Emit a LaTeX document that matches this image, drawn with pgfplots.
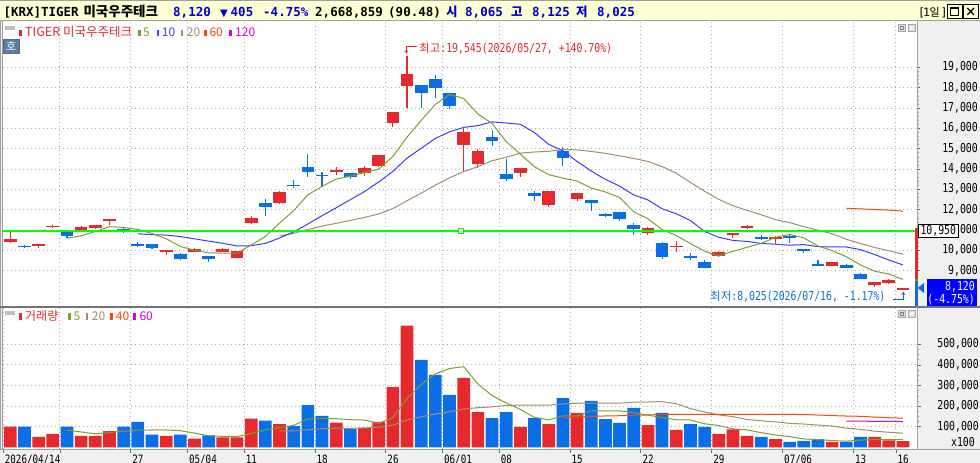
\documentclass[border=0pt]{standalone}
\usepackage{fontspec}
\usepackage{pgfplots}
\usepackage{pgfplotstable}
\pgfplotsset{compat=1.18}
\usetikzlibrary{arrows.meta}
\setmainfont{Noto Sans CJK KR}
\newfontfamily\kr{Noto Sans CJK KR}
\newfontfamily\mono[FakeStretch=0.8]{DejaVu Sans Mono}
\newfontfamily\hmono{DejaVu Sans Mono}
\newfontfamily\djv{DejaVu Sans}
\newcommand{\numf}{\mono\fontsize{12.3}{14}\selectfont}

\definecolor{cred}{RGB}{230,41,45}
\definecolor{cblue}{RGB}{10,110,230}
\definecolor{ma5c}{RGB}{125,160,45}
\definecolor{ma10c}{RGB}{60,60,255}
\definecolor{ma20c}{RGB}{165,140,110}
\definecolor{ma60c}{RGB}{255,70,10}
\definecolor{ma120c}{RGB}{220,0,220}
\definecolor{greenc}{RGB}{0,255,0}
\definecolor{gridc}{RGB}{175,175,175}
\definecolor{hdrbg}{RGB}{255,255,212}
\definecolor{hdrblue}{RGB}{0,0,210}
\definecolor{sidebg}{RGB}{240,240,240}
\definecolor{framec}{RGB}{160,160,160}
\definecolor{hobg}{RGB}{85,125,175}
\definecolor{boxblue}{RGB}{0,0,255}

\pgfplotsset{candle/.style={draw=none, mark=none, forget plot,
  error bars/.cd, y dir=both, y explicit, error mark=none}}

% candles: up (red) and down (blue)
\pgfplotstableread{
i o h l c
0 10411 10903 10378 10559
2 10231 10313 10133 10313
3 11149 11247 11116 11198
5 11002 11182 11002 11149
6 11116 11247 11051 11247
7 11461 11543 11247 11510
11 9936 9985 9789 9985
13 9936 10116 9920 10067
15 9936 10116 9936 10067
16 9641 9985 9608 9985
17 11362 11690 11297 11592
19 12329 12919 12280 12870
23 13870 14083 13706 13952
25 13788 14165 13673 14067
26 14165 14690 14116 14690
27 16279 16804 16083 16804
28 18099 19545 16984 18672
32 15197 16001 13870 15804
33 14263 14968 14034 14870
36 13821 14050 13591 14050
38 12247 12919 12116 12919
40 12542 12837 12444 12805
45 10870 11133 10756 11100
47 10149 10444 9936 10231
50 9739 9969 9657 9920
51 10772 10870 10624 10838
52 11116 11264 11035 11215
54 10559 10707 10313 10657
58 9248 9445 9248 9445
61 8297 8428 8215 8428
62 8412 8592 8346 8525
63 8065 8125 8025 8120
}\upc
\pgfplotstableread{
i o h l c
1 10215 10280 10116 10182
4 10903 10903 10592 10707
8 11051 11100 10870 11002
9 10313 10411 10182 10231
10 10313 10313 10067 10133
12 9822 9854 9526 9592
14 9723 9723 9445 9592
18 12329 12526 11706 12149
20 13231 13460 13050 13165
21 14099 14739 13591 13870
22 13706 13854 13132 13657
24 13788 13788 13493 13591
29 18131 18131 16984 17722
30 18426 18623 17508 18000
31 17722 17754 16951 17115
34 15574 15919 15132 15394
35 13755 14493 13427 13526
37 12821 12936 12444 12690
39 14886 15066 14165 14558
41 12477 12477 11952 12345
42 11788 11838 11624 11723
43 11870 11870 11461 11559
44 11264 11362 10772 11035
46 10346 10428 9592 9690
48 9739 9854 9526 9608
49 9445 9526 9150 9150
53 10674 10756 10510 10576
55 10674 10772 10379 10625
56 10084 10084 9854 9969
57 9330 9526 9232 9232
59 9297 9330 9150 9150
60 8838 8904 8609 8609
}\dnc

\pgfplotstableread{
i v
4 10592
5 10710
6 10923
7 11162
8 11123
9 11028
10 10825
11 10572
12 10189
13 10002
14 9874
15 9861
16 9861
17 10261
18 10677
19 11333
20 11952
21 12729
22 13142
23 13503
24 13647
25 13827
26 13991
27 14621
28 15565
29 16391
30 17178
31 17663
32 17463
33 16702
34 16237
35 15342
36 14729
37 14106
38 13716
39 13549
40 13404
41 13063
42 12870
43 12598
44 11893
45 11552
46 11021
47 10723
48 10333
49 9956
50 9720
51 9949
52 10146
53 10340
54 10641
55 10782
56 10608
57 10212
58 9986
59 9684
60 9281
61 8973
62 8831
63 8566
}\mafive
\pgfplotstableread{
i v
9 10810
10 10767
11 10748
12 10675
13 10562
14 10451
15 10343
16 10216
17 10225
18 10339
19 10603
20 10906
21 11295
22 11701
23 12090
24 12490
25 12890
26 13360
27 13882
28 14534
29 15019
30 15503
31 15827
32 16042
33 16134
34 16314
35 16260
36 16196
37 15784
38 15209
39 14893
40 14373
41 13896
42 13488
43 13157
44 12721
45 12478
46 12042
47 11797
48 11465
49 10925
50 10636
51 10485
52 10435
53 10336
54 10299
55 10251
56 10279
57 10179
58 10163
59 10163
60 10032
61 9791
62 9521
63 9277
}\maten
\pgfplotstableread{
i v
19 10707
20 10837
21 11021
22 11188
23 11326
24 11470
25 11616
26 11788
27 12053
28 12437
29 12811
30 13204
31 13561
32 13872
33 14112
34 14402
35 14575
36 14778
37 14833
38 14871
39 14956
40 14938
41 14862
42 14765
43 14645
44 14517
45 14369
46 14119
47 13790
48 13337
49 12909
50 12505
51 12191
52 11961
53 11747
54 11510
55 11365
56 11161
57 10988
58 10814
59 10544
60 10334
61 10138
62 9978
63 9806
}\matwenty
\pgfplotstableread{
i v
59 12069
60 12036
61 12007
62 11977
63 11926
}\masixty

% volume (x100, in thousands)
\pgfplotstableread{
i v
0 100
2 51
3 65
5 56
6 56
7 79
11 56
13 42
15 48
16 48
17 139
19 113
23 120
25 94
26 123
27 293
28 590
32 337
33 171
36 99
38 113
40 167
45 108
47 84
50 65
51 87
52 55
54 40
58 26
61 50
62 34
63 30
}\upv
\pgfplotstableread{
i v
1 100
4 100
8 100
9 123
10 62
12 62
14 58
18 129
20 103
21 205
22 153
24 89
29 424
30 351
31 254
34 142
35 171
37 142
39 239
41 225
42 137
43 118
44 191
46 167
48 113
49 99
53 50
55 26
56 31
57 40
59 26
60 50
}\dnv
\pgfplotstableread{
i v
4 83.2
5 74.4
6 65.6
7 71.2
8 78.2
9 82.8
10 84
11 84
12 80.6
13 69
14 56
15 53.2
16 51.6
17 67
18 84.4
19 95.4
20 106.4
21 137.8
22 140.6
23 138.8
24 134
25 132.2
26 115.8
27 143.8
28 237.8
29 304.8
30 356.2
31 382.4
32 391.2
33 307.4
34 251
35 215
36 184
37 145
38 133.4
39 152.8
40 152
41 177.2
42 176.2
43 177.2
44 167.6
45 155.8
46 144.2
47 133.6
48 132.6
49 114.2
50 105.6
51 89.6
52 83.8
53 71.2
54 59.4
55 51.6
56 40.4
57 37.4
58 32.6
59 29.8
60 34.6
61 38.4
62 37.2
63 38
}\vmafive
\pgfplotstableread{
i v
19 79.4
20 79.5
21 84.8
22 89.9
23 92.6
24 92.1
25 94
26 97.3
27 108
28 132.5
29 147.6
30 162
31 171.9
32 185.7
33 192.1
34 196.3
35 202.5
36 205
37 205.2
38 204.4
39 210.7
40 213.9
41 214.9
42 214.1
43 214
44 219.1
45 219.8
46 222
47 211.5
48 187.7
49 171.4
50 157.1
51 148.8
52 134.7
53 128.6
54 123.5
55 116.3
56 112.9
57 107.8
58 103.4
59 92.8
60 86.9
61 78.2
62 73
63 68.6
}\vmatwenty
\pgfplotstableread{
i v
39 145
40 146.7
41 149.8
42 152
43 153.3
44 155.6
45 156.9
46 159.6
47 159.8
48 160.1
49 159.5
50 159.6
51 160.3
52 160.2
53 160.4
54 159.9
55 159.4
56 158.9
57 156.5
58 153.9
59 151.7
60 150.4
61 146.5
62 143.5
63 141.3
}\vmaforty
\pgfplotstableread{
i v
59 127.6
60 126.8
61 125.9
62 125.6
63 125.1
}\vmasixty

\begin{document}
\begin{tikzpicture}[x=1pt,y=1pt]
\useasboundingbox (0,0) rectangle (980,463);
\fill[white] (0,0) rectangle (980,463);
% side areas
\fill[sidebg] (917,14) rectangle (980,442.5);
\fill[sidebg] (0,0) rectangle (980,14);
\fill[sidebg] (0,14) rectangle (3,442.5);
\draw[framec, line width=0.6pt] (0.4,14) -- (0.4,442.5) (2.6,14) -- (2.6,442.5);
% header
\fill[hdrbg] (0,442.5) rectangle (980,463);
\draw[framec, line width=1pt] (0,442.5) -- (980,442.5);
\draw[framec, line width=1pt] (0,462.5) -- (980,462.5);

% ---------------- price panel ----------------
\begin{axis}[
  at={(3pt,156pt)}, anchor=south west, scale only axis,
  width=914pt, height=286pt,
  xmin=-0.515, xmax=63.99, ymin=7211, ymax=21277,
  axis line style={draw=none},
  xtick={3.5,8.5,12.5,16.5,21.5,26.5,30.5,34.5,39.5,44.5,49.5,54.5,59.5,62.5},
  xticklabels={},
  xtick style={draw=none},
  ytick={9000,10000,...,19000},
  minor y tick num=4,
  ytick pos=right, yticklabel pos=right,
  tick align=outside,
  major tick length=3pt, minor tick length=2pt,
  ytick style={draw=black!60, line width=0.6pt},
  minor y tick style={draw=black!40, line width=0.5pt},
  scaled y ticks=false,
  yticklabel style={anchor=east, xshift=58pt, inner sep=0pt, font=\numf},
  /pgf/number format/1000 sep={,},
  /pgf/number format/assume math mode=true,
  grid=major,
  major grid style={draw=gridc, dash pattern=on 1pt off 3pt, line width=0.8pt},
  clip=true,
]
% wicks
\addplot[candle, error bar style={draw=cred, line width=1.1pt}]
  table[x=i, y expr={(\thisrow{h}+\thisrow{l})/2}, y error expr={(\thisrow{h}-\thisrow{l})/2}] {\upc};
\addplot[candle, error bar style={draw=cblue, line width=1.1pt}]
  table[x=i, y expr={(\thisrow{h}+\thisrow{l})/2}, y error expr={(\thisrow{h}-\thisrow{l})/2}] {\dnc};
% bodies
\addplot[candle, error bar style={draw=cred, line width=12.7pt}]
  table[x=i, y expr={(\thisrow{o}+\thisrow{c})/2}, y error expr={max(abs(\thisrow{c}-\thisrow{o})/2,30)}] {\upc};
\addplot[candle, error bar style={draw=cblue, line width=12.7pt}]
  table[x=i, y expr={(\thisrow{o}+\thisrow{c})/2}, y error expr={max(abs(\thisrow{c}-\thisrow{o})/2,30)}] {\dnc};
% moving averages
\addplot[ma20c, line width=1pt, mark=none] table[x=i,y=v] {\matwenty};
\addplot[ma10c, line width=1pt, mark=none] table[x=i,y=v] {\maten};
\addplot[ma5c, line width=1pt, mark=none] table[x=i,y=v] {\mafive};
\addplot[ma60c, line width=1pt, mark=none] table[x=i,y=v] {\masixty};
% reference line
\addplot[greenc, line width=2.6pt, mark=none] coordinates {(-0.515,10950) (63.99,10950)};
\addplot[only marks, mark=square*, mark size=2.8pt, mark options={fill=white, draw=greenc, line width=1pt}] coordinates {(31.8,10950)};
\end{axis}

% ---------------- volume panel ----------------
\begin{axis}[
  at={(3pt,14pt)}, anchor=south west, scale only axis,
  width=914pt, height=142pt,
  xmin=-0.515, xmax=63.99, ymin=-8.3, ymax=681,
  axis line style={draw=none},
  xtick={-0.5,3.5,8.5,12.5,16.5,21.5,26.5,30.5,34.5,39.5,44.5,49.5,54.5,59.5,62.5},
  xticklabels={2026/04/14,,27,05/04,11,18,26,06/01,08,15,22,29,07/06,13,16},
  xtick pos=lower,
  xticklabel style={anchor=base west, xshift=1.5pt, yshift=-10.8pt, inner sep=0pt, font=\mono\fontsize{11.5}{12}\selectfont},
  ytick={100,200,300,400,500},
  yticklabels={{100,000},{200,000},{300,000},{400,000},{500,000}},
  minor y tick num=3,
  ytick pos=right, yticklabel pos=right,
  tick align=outside,
  major tick length=4pt, minor tick length=2pt,
  xtick style={draw=black!60, line width=0.7pt},
  ytick style={draw=black!60, line width=0.6pt},
  minor y tick style={draw=black!40, line width=0.5pt},
  yticklabel style={anchor=east, xshift=58pt, inner sep=0pt, font=\numf},
  grid=major,
  major grid style={draw=gridc, dash pattern=on 1pt off 3pt, line width=0.8pt},
  clip=true,
]
\addplot[ybar, bar width=12.7pt, bar shift=0pt, fill=cred, draw=none] table[x=i,y=v] {\upv};
\addplot[ybar, bar width=12.7pt, bar shift=0pt, fill=cblue, draw=none] table[x=i,y=v] {\dnv};
\addplot[ma20c, line width=1pt, mark=none] table[x=i,y=v] {\vmatwenty};
\addplot[ma60c, line width=1pt, mark=none] table[x=i,y=v] {\vmaforty};
\addplot[ma120c, line width=1pt, mark=none] table[x=i,y=v] {\vmasixty};
\addplot[ma5c, line width=1pt, mark=none] table[x=i,y=v] {\vmafive};
\end{axis}

% separators
\draw[black!55, line width=1.4pt] (0,156) -- (980,156);
\draw[framec, line width=0.8pt] (917,14) -- (917,442.5);
\draw[framec, line width=0.8pt] (0,14) -- (980,14);

% price-position strip at right edge of plot
\fill[cred] (915.2,184) rectangle (918,235);
\fill[ma5c] (915.2,182) rectangle (918,184);
\fill[cblue] (915.2,156.7) rectangle (918,182);

% 10,950 box
\draw[black, fill=white, line width=0.7pt] (918.3,225.3) rectangle (958.3,238.7);
\node[inner sep=0, font=\numf] at (938.3,232) {10,950};
% current price box
\fill[boxblue] (926.7,156.6) rectangle (977,183.7);
\fill[cblue] (917.8,175) -- (924,180) -- (924,170) -- cycle;
\node[anchor=east, inner sep=0, text=white, font=\numf] at (975,176.3) {8,120};
\node[anchor=east, inner sep=0, text=white, font=\numf] at (975,163.2) {(-4.75\%)};
% x100
\node[anchor=east, inner sep=0, font=\numf] at (975,21.3) {x100};

% header texts
\begin{scope}[every node/.style={anchor=base west, inner sep=0}]
\node[font=\hmono\bfseries\fontsize{12.5}{14}\selectfont] at (3.3,446) {[KRX]TIGER};
\node[font=\kr\bfseries\fontsize{13.5}{14}\selectfont] at (83.3,446) {미국우주테크};
\node[text=hdrblue, font=\hmono\bfseries\fontsize{12.5}{14}\selectfont] at (173,446) {8,120};
\node[text=hdrblue, font=\djv\fontsize{10}{12}\selectfont] at (220,446.5) {▼};
\node[text=hdrblue, font=\hmono\bfseries\fontsize{12.5}{14}\selectfont] at (230.5,446) {405};
\node[text=hdrblue, font=\hmono\bfseries\fontsize{12.5}{14}\selectfont] at (263,446) {-4.75\%};
\node[font=\hmono\bfseries\fontsize{12.5}{14}\selectfont] at (315,446) {2,668,859};
\node[font=\hmono\bfseries\fontsize{12.5}{14}\selectfont] at (388,446) {(90.48)};
\node[text=hdrblue, font=\kr\bfseries\fontsize{12.5}{14}\selectfont] at (446,446) {시};
\node[text=hdrblue, font=\hmono\bfseries\fontsize{12.5}{14}\selectfont] at (465,446) {8,065};
\node[text=hdrblue, font=\kr\bfseries\fontsize{12.5}{14}\selectfont] at (511,446) {고};
\node[text=hdrblue, font=\hmono\bfseries\fontsize{12.5}{14}\selectfont] at (532,446) {8,125};
\node[text=hdrblue, font=\kr\bfseries\fontsize{12.5}{14}\selectfont] at (576,446) {저};
\node[text=hdrblue, font=\hmono\bfseries\fontsize{12.5}{14}\selectfont] at (597,446) {8,025};
\node[font=\hmono\fontsize{11.5}{14}\selectfont] at (918,446.5) {[};
\node[font=\hmono\fontsize{11.5}{14}\selectfont] at (922.8,446.5) {1};
\node[font=\kr\fontsize{11}{14}\selectfont] at (929.5,446.5) {일};
\node[font=\hmono\fontsize{11.5}{14}\selectfont] at (940.5,446.5) {]};
\end{scope}
% header buttons
\draw[black, line width=0.8pt, fill=hdrbg] (947.3,444.3) rectangle (962,458.7);
\draw[black, line width=0.8pt] (950.5,447.5) rectangle (958.8,455.3);
\draw[black, line width=1.6pt] (950.5,454.6) -- (958.8,454.6);
\draw[black, line width=0.8pt, fill=hdrbg] (963.3,444.3) rectangle (978,458.7);
\draw[black, line width=1.3pt] (967.3,448) -- (974,455) (967.3,455) -- (974,448);

% price legend
\fill[black!25] (5,433) rectangle (15,437.3);
\fill[cred] (19.3,427) rectangle (22,433);
\node[anchor=base west, inner sep=0, text=cred, font=\kr\fontsize{12.5}{14}\selectfont] at (25,426.3) {TIGER 미국우주테크};
\fill[ma5c] (138.3,427) rectangle (140.7,433);
\node[anchor=base west, inner sep=0, text=ma5c, font=\kr\fontsize{12}{14}\selectfont] at (143,426.3) {5};
\fill[ma10c] (156.7,427) rectangle (159.3,433);
\node[anchor=base west, inner sep=0, text=ma10c, font=\kr\fontsize{12}{14}\selectfont] at (161.7,426.3) {10};
\fill[ma20c] (181,427) rectangle (183.3,433);
\node[anchor=base west, inner sep=0, text=ma20c, font=\kr\fontsize{12}{14}\selectfont] at (186.7,426.3) {20};
\fill[ma60c] (204,427) rectangle (206.7,433);
\node[anchor=base west, inner sep=0, text=ma60c, font=\kr\fontsize{12}{14}\selectfont] at (209.3,426.3) {60};
\fill[ma120c] (229.3,427) rectangle (231.7,433);
\node[anchor=base west, inner sep=0, text=ma120c, font=\kr\fontsize{12}{14}\selectfont] at (235,426.3) {120};
% ho button
\draw[black!60, fill=hobg, line width=0.6pt] (3.3,409.7) rectangle (19,424);
\node[text=white, inner sep=0, font=\kr\fontsize{11}{12}\selectfont] at (11.2,416.8) {호};
% panel icons
\foreach \yy in {432, 146}{
  \draw[black!35, fill=black!12, line width=0.5pt] (898.5,\yy) rectangle (905,\yy+6.5);
  \draw[black!35, fill=black!12, line width=0.5pt] (908.5,\yy) rectangle (915,\yy+6.5);
  \draw[black!50, line width=0.5pt] (900,\yy+2.2) rectangle (903.5,\yy+4.3);
  \draw[white, line width=0.7pt] (909.8,\yy+1.3) -- (913.7,\yy+5.2) (909.8,\yy+5.2) -- (913.7,\yy+1.3);
}

% volume legend
\fill[black!25] (5,148) rectangle (15,152);
\fill[cred] (19.3,143) rectangle (22,150);
\node[anchor=base west, inner sep=0, text=cred, font=\kr\fontsize{12}{14}\selectfont] at (25,142.1) {거래량};
\fill[ma5c] (68.3,143) rectangle (70.7,150);
\node[anchor=base west, inner sep=0, text=ma5c, font=\kr\fontsize{12}{14}\selectfont] at (73.3,142.1) {5};
\fill[ma20c] (86,143) rectangle (88.3,150);
\node[anchor=base west, inner sep=0, text=ma20c, font=\kr\fontsize{12}{14}\selectfont] at (91.7,142.1) {20};
\fill[ma60c] (110,143) rectangle (112.7,150);
\node[anchor=base west, inner sep=0, text=ma60c, font=\kr\fontsize{12}{14}\selectfont] at (115.7,142.1) {40};
\fill[ma120c] (133.3,143) rectangle (136,150);
\node[anchor=base west, inner sep=0, text=ma120c, font=\kr\fontsize{12}{14}\selectfont] at (139.3,142.1) {60};

% high / low annotations
\draw[cred, line width=0.8pt, -{Stealth[length=3.5pt,width=4pt]}] (416.7,417) -- (406.3,417) -- (406.3,409.3);
\node[anchor=base west, inner sep=0, text=cred] at (419,410.2) {{\kr\fontsize{11.5}{13}\selectfont 최고}{\numf :19,545(2026/05/27, +140.70\%)}};
\draw[cblue, line width=0.8pt, -{Stealth[length=3.5pt,width=4pt]}] (892.7,163.7) -- (903.3,163.7) -- (903.3,171.5);
\node[anchor=base west, inner sep=0, text=cblue] at (710,162.5) {{\kr\fontsize{11.5}{13}\selectfont 최저}{\numf :8,025(2026/07/16, -1.17\%)}};
\end{tikzpicture}
\end{document}
